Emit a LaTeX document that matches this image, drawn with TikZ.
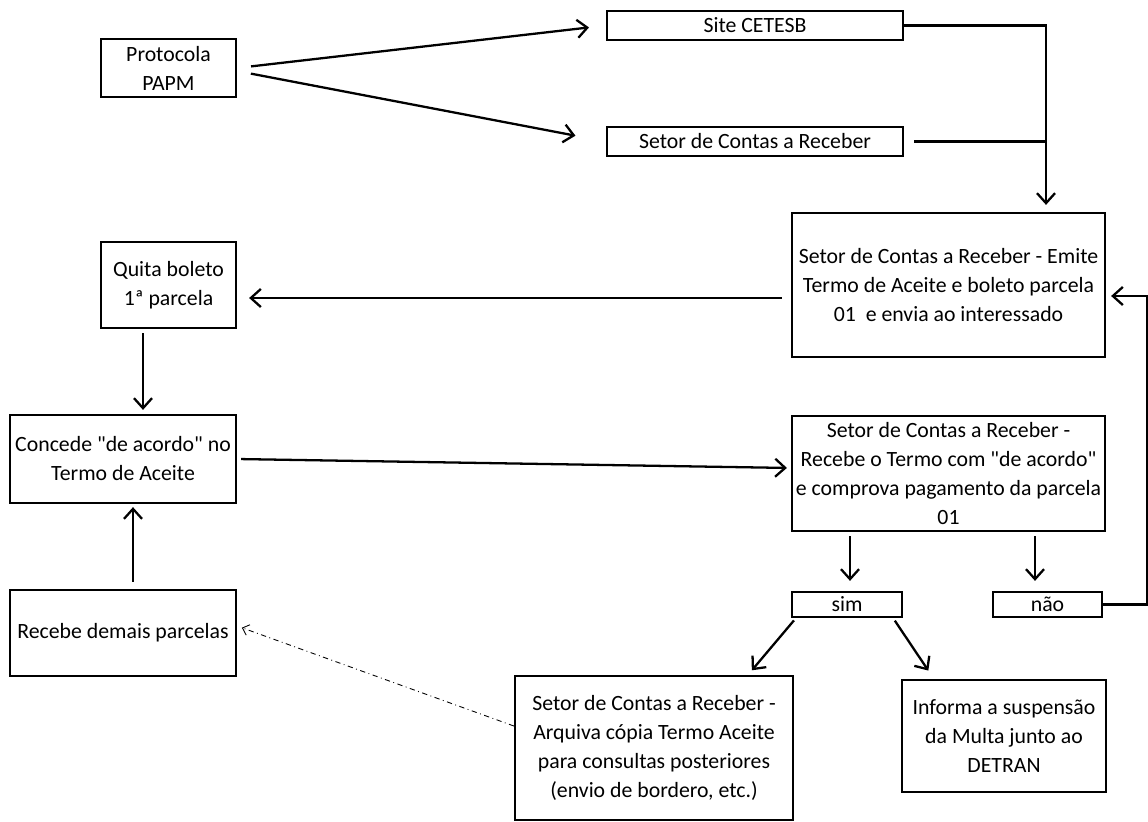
\documentclass[tikz,border=0pt]{standalone}
\usepackage{fontspec}
\setmainfont{Carlito}
\usepackage{tikz}
\usetikzlibrary{arrows.meta}

\begin{document}
\begin{tikzpicture}[x=0.02cm, y=-0.02cm,
    caixa/.style={draw, line width=1.3pt, align=center, inner sep=0pt,
        font=\fontsize{12.4}{16.5}\selectfont},
    seta/.style={line width=1.3pt, -{Straight Barb[length=2mm,width=3.6mm]}},
    tracejada/.style={line width=0.5pt, dash dot, -{Straight Barb[length=1.2mm,width=2.2mm]}}]

\useasboundingbox (0,0) rectangle (1148,821);

% caixas
\node [caixa, minimum width=2.70cm, minimum height=1.16cm] (protocolo) at (168.5,68)  {Protocola\\PAPM};
\node [caixa, minimum width=5.92cm, minimum height=0.58cm] (cetesb)    at (755,25.5)   {Site CETESB};
\node [caixa, minimum width=5.92cm, minimum height=0.58cm] (contas)    at (755,141.5)  {Setor de Contas a Receber};
\node [caixa, minimum width=6.26cm, minimum height=2.88cm] (emite)     at (948.5,285)  {Setor de Contas a Receber - Emite\\Termo de Aceite e boleto parcela\\01~ e envia ao interessado};
\node [caixa, minimum width=2.70cm, minimum height=1.72cm] (quita)     at (168.5,285)  {Quita boleto\\1ª parcela};
\node [caixa, minimum width=4.52cm, minimum height=1.76cm] (concede)   at (123,459)    {Concede \textquotedbl de acordo\textquotedbl\ no\\Termo de Aceite};
\node [caixa, minimum width=6.26cm, minimum height=2.30cm] (recebe)    at (948.5,473.5) {Setor de Contas a Receber -\\Recebe o Termo com \textquotedbl de acordo\textquotedbl\\e comprova pagamento da parcela\\01};
\node [caixa, minimum width=2.20cm, minimum height=0.50cm] (sim)       at (847,604.5)  {sim};
\node [caixa, minimum width=2.18cm, minimum height=0.50cm] (nao)       at (1047.5,604.5) {não};
\node [caixa, minimum width=5.56cm, minimum height=2.88cm] (arquiva)   at (654,748)    {Setor de Contas a Receber -\\Arquiva cópia Termo Aceite\\para consultas posteriores\\(envio de bordero, etc.)};
\node [caixa, minimum width=4.08cm, minimum height=2.24cm] (informa)   at (1004,736)   {Informa a suspensão\\da Multa junto ao\\DETRAN};
\node [caixa, minimum width=4.52cm, minimum height=1.72cm] (demais)    at (123,633)    {Recebe demais parcelas};

\coordinate (juncao) at (1046,25.5);

% ligacoes
\draw [seta, shorten <=0.28cm, shorten >=0.34cm] (protocolo.east) -- (cetesb.west);
\draw [seta, shorten <=0.28cm, shorten >=0.62cm] ([yshift=-0.06cm]protocolo.east) -- (contas.west);
\draw [seta, shorten >=0.14cm] (cetesb.east) -- (juncao) -- (juncao |- emite.north);
\draw [line width=1.3pt, shorten <=0.2cm] (contas.east) -- (juncao |- contas.east);
\draw [seta, shorten <=0.18cm, shorten >=0.24cm] ([yshift=-0.26cm]emite.west) -- ([yshift=-0.26cm]emite.west -| quita.east);
\draw [seta, shorten <=0.08cm, shorten >=0.08cm] ([xshift=-0.51cm]quita.south) -- ([xshift=-0.51cm]quita.south |- concede.north);
\draw [seta, shorten <=0.08cm, shorten >=0.08cm] (concede.east) -- ([yshift=0.11cm]recebe.west);
\foreach \d/\s in {sim/0.06cm, nao/-0.25cm}
    \draw [seta, shorten <=0.08cm, shorten >=0.2cm] ([xshift=\s]recebe.south -| \d.north) -- ([xshift=\s]\d.north);
\draw [seta, shorten >=0.1cm] (nao.east) -- ++(0.88cm,0) |- ([yshift=-0.22cm]emite.east);
\draw [seta, shorten <=0.06cm, shorten >=0.12cm] ([xshift=0.1cm]sim.south west) -- ([xshift=1.88cm]arquiva.north);
\draw [seta, shorten <=0.06cm, shorten >=0.2cm] ([xshift=-0.2cm]sim.south east) -- ([xshift=0.66cm]informa.north west);
\draw [seta, shorten <=0.14cm, shorten >=0.06cm] ([xshift=0.2cm]demais.north) -- ([xshift=0.2cm]concede.south);
\draw [tracejada, shorten >=0.1cm] ([yshift=0.44cm]arquiva.west) -- ([yshift=0.14cm]demais.east);

\end{tikzpicture}
\end{document}
